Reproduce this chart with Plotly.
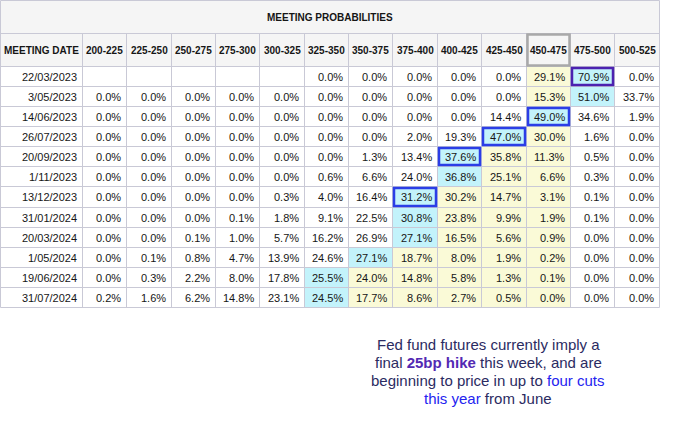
import plotly.graph_objects as go

# ---------------- data ----------------
title = "MEETING PROBABILITIES"
first_header = "MEETING DATE"
buckets = ["200-225", "225-250", "250-275", "275-300", "300-325", "325-350", "350-375",
           "375-400", "400-425", "425-450", "450-475", "475-500", "500-525"]
dates = ["22/03/2023", "3/05/2023", "14/06/2023", "26/07/2023", "20/09/2023", "1/11/2023",
         "13/12/2023", "31/01/2024", "20/03/2024", "1/05/2024", "19/06/2024", "31/07/2024"]
probs = [
    [None, None, None, None, None, 0.0, 0.0, 0.0, 0.0, 0.0, 29.1, 70.9, 0.0],
    [0.0, 0.0, 0.0, 0.0, 0.0, 0.0, 0.0, 0.0, 0.0, 0.0, 15.3, 51.0, 33.7],
    [0.0, 0.0, 0.0, 0.0, 0.0, 0.0, 0.0, 0.0, 0.0, 14.4, 49.0, 34.6, 1.9],
    [0.0, 0.0, 0.0, 0.0, 0.0, 0.0, 0.0, 2.0, 19.3, 47.0, 30.0, 1.6, 0.0],
    [0.0, 0.0, 0.0, 0.0, 0.0, 0.0, 1.3, 13.4, 37.6, 35.8, 11.3, 0.5, 0.0],
    [0.0, 0.0, 0.0, 0.0, 0.0, 0.6, 6.6, 24.0, 36.8, 25.1, 6.6, 0.3, 0.0],
    [0.0, 0.0, 0.0, 0.0, 0.3, 4.0, 16.4, 31.2, 30.2, 14.7, 3.1, 0.1, 0.0],
    [0.0, 0.0, 0.0, 0.1, 1.8, 9.1, 22.5, 30.8, 23.8, 9.9, 1.9, 0.1, 0.0],
    [0.0, 0.0, 0.1, 1.0, 5.7, 16.2, 26.9, 27.1, 16.5, 5.6, 0.9, 0.0, 0.0],
    [0.0, 0.1, 0.8, 4.7, 13.9, 24.6, 27.1, 18.7, 8.0, 1.9, 0.2, 0.0, 0.0],
    [0.0, 0.3, 2.2, 8.0, 17.8, 25.5, 24.0, 14.8, 5.8, 1.3, 0.1, 0.0, 0.0],
    [0.2, 1.6, 6.2, 14.8, 23.1, 24.5, 17.7, 8.6, 2.7, 0.5, 0.0, 0.0, 0.0],
]
current_bucket = "450-475"
# highlighted (outlined) cells: (date, bucket, kind)
outlined = [("22/03/2023", "475-500", "hike"), ("14/06/2023", "450-475", "cut"),
            ("26/07/2023", "425-450", "cut"), ("20/09/2023", "400-425", "cut"),
            ("13/12/2023", "375-400", "cut")]
note_lines = [
    "Fed fund futures currently imply a",
    "final <b><span style='color:#5329b3'>25bp hike</span></b> this week, and are",
    "beginning to price in up to <span style='color:#2424f0'>four cuts</span>",
    "<span style='color:#2424f0'>this year</span> from June",
]

# ---------------- styling / layout ----------------
W, H = 673, 433
FONT = "Liberation Sans, Arial, sans-serif"
GRID = "#c9c9d6"
HEAD_BG = "#f5f5f5"
CYAN = "#c3f3fb"
YELLOW = "#fafad7"
BORDER = {"hike": "#4c22b0", "cut": "#2b3ee6"}
TEXT = "#161616"

left = 0.5
first_w = 82.0
col_w = 44.35
title_h = 33.0
head_h = 33.0
row_h = 20.08

ncol = len(buckets)
x_edges = [left, left + first_w] + [left + first_w + (k + 1) * col_w for k in range(ncol)]
x_edges = [round(v - 0.5) + 0.5 for v in x_edges]
y_title0 = 0.5
y_head0 = y_title0 + title_h
y_data0 = y_head0 + head_h
y_edges = [round(y_data0 + i * row_h - 0.5) + 0.5 for i in range(len(dates) + 1)]
right = x_edges[-1]
bottom = y_edges[-1]

shapes = []
annotations = []

def rect(x0, y0, x1, y1, fill=None, line=None, lw=0):
    shapes.append(dict(type="rect", xref="x", yref="y", x0=x0, y0=y0, x1=x1, y1=y1,
                       fillcolor=fill if fill else "rgba(0,0,0,0)",
                       line=dict(color=line if line else "rgba(0,0,0,0)", width=lw),
                       layer="below"))

def hline(x0, x1, y, color=GRID, lw=1):
    shapes.append(dict(type="line", xref="x", yref="y", x0=x0, x1=x1, y0=y, y1=y,
                       line=dict(color=color, width=lw), layer="below"))

def vline(x, y0, y1, color=GRID, lw=1):
    shapes.append(dict(type="line", xref="x", yref="y", x0=x, x1=x, y0=y0, y1=y1,
                       line=dict(color=color, width=lw), layer="below"))

def text(x, y, s, size=11, bold=False, anchor="right", color=TEXT):
    annotations.append(dict(x=x, y=y, xref="x", yref="y", text=f"<b>{s}</b>" if bold else s,
                            showarrow=False, xanchor=anchor, yanchor="middle",
                            font=dict(family=FONT, size=size, color=color)))

# header backgrounds
rect(left, y_title0, right, y_head0, fill=HEAD_BG)
rect(left, y_head0, right, y_data0, fill=HEAD_BG)

# data cell shading
cur = buckets.index(current_bucket)
for i, row in enumerate(probs):
    vals = [v if v is not None else -1 for v in row]
    m = max(range(ncol), key=lambda k: vals[k])
    lo, hi = sorted((m, cur))
    for k in range(ncol):
        fill = None
        if k == m:
            fill = CYAN
        elif lo <= k <= hi:
            fill = YELLOW
        if fill:
            rect(x_edges[k + 1], y_edges[i], x_edges[k + 2], y_edges[i + 1], fill=fill)

# grid lines
hline(left, right, y_title0)
hline(left, right, y_head0)
for y in y_edges:
    hline(left, right, y)
vline(left, y_title0, bottom)
vline(right, y_title0, bottom)
for x in x_edges[1:-1]:
    vline(x, y_head0, bottom)

# current-rate header box
c = buckets.index(current_bucket)
shapes.append(dict(type="rect", xref="x", yref="y", x0=x_edges[c + 1] + 1, x1=x_edges[c + 2] - 1,
                   y0=y_head0 + 1, y1=y_data0 - 1, line=dict(color="#a9a9a9", width=2.5),
                   fillcolor="rgba(0,0,0,0)", layer="above"))

# outlined cells
for d, b, kind in outlined:
    i = dates.index(d)
    k = buckets.index(b)
    shapes.append(dict(type="rect", xref="x", yref="y", x0=x_edges[k + 1] + 1.5,
                       x1=x_edges[k + 2] - 1.5, y0=y_edges[i] + 1.5, y1=y_edges[i + 1] - 1.5,
                       line=dict(color=BORDER[kind], width=2.5), fillcolor="rgba(0,0,0,0)",
                       layer="above"))

# texts
text((left + right) / 2, (y_title0 + y_head0) / 2, title, size=10, bold=True, anchor="center")
text((x_edges[0] + x_edges[1]) / 2, (y_head0 + y_data0) / 2, first_header, size=10, bold=True,
     anchor="center")
for k, b in enumerate(buckets):
    text((x_edges[k + 1] + x_edges[k + 2]) / 2, (y_head0 + y_data0) / 2, b, size=10, bold=True,
         anchor="center")
for i, d in enumerate(dates):
    yc = (y_edges[i] + y_edges[i + 1]) / 2
    text(x_edges[1] - 4, yc, d)
    for k, v in enumerate(probs[i]):
        if v is None:
            continue
        text(x_edges[k + 2] - 4, yc, f"{v:.1f}%")

# note
note_x = 488
note_y0 = 344
note_dy = 18.3
for j, line in enumerate(note_lines):
    annotations.append(dict(x=note_x, y=note_y0 + j * note_dy, xref="x", yref="y", text=line,
                            showarrow=False, xanchor="center", yanchor="middle",
                            font=dict(family=FONT, size=15, color="#2b2b62")))

fig = go.Figure()
fig.add_trace(go.Scatter(x=[0], y=[0], mode="markers", marker=dict(opacity=0),
                         hoverinfo="skip", showlegend=False))
fig.update_layout(
    width=W, height=H, margin=dict(l=0, r=0, t=0, b=0),
    paper_bgcolor="white", plot_bgcolor="white",
    xaxis=dict(range=[0, W], visible=False, fixedrange=True),
    yaxis=dict(range=[H, 0], visible=False, fixedrange=True),
    shapes=shapes, annotations=annotations, showlegend=False,
)
fig.write_html("out.html", config={"displayModeBar": False},
               post_script="document.body.style.margin='0';document.body.style.overflow='hidden';")
